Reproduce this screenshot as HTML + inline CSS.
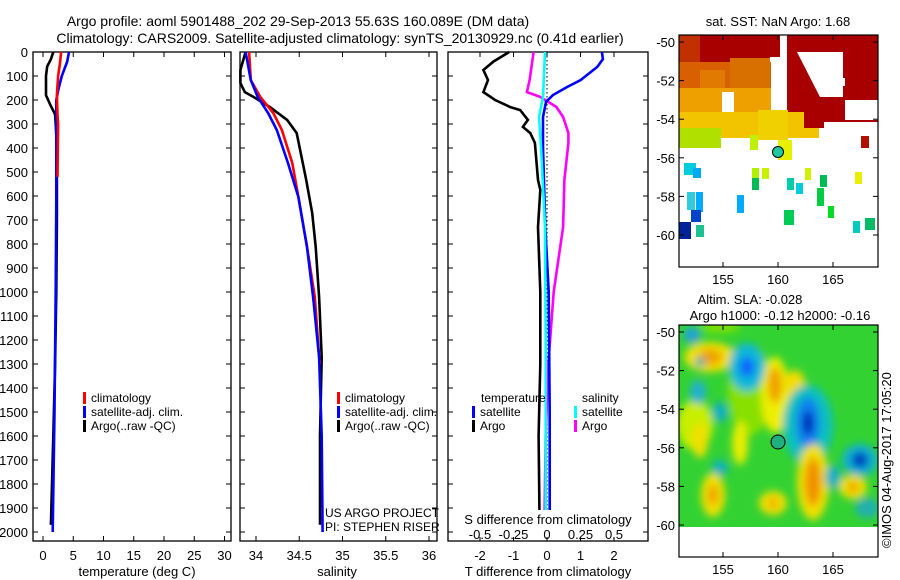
<!DOCTYPE html>
<html><head><meta charset="utf-8"><style>
body{margin:0;background:#fff;}
svg{display:block;font-family:"Liberation Sans",sans-serif;}
</style></head><body>
<svg id="fig" width="900" height="580" viewBox="0 0 900 580">
<defs>
<clipPath id="c1"><rect x="679" y="35" width="199" height="232"/></clipPath>
<clipPath id="c2"><rect x="679" y="325" width="199" height="202"/></clipPath>
<filter id="bl" x="-20%" y="-20%" width="140%" height="140%"><feGaussianBlur stdDeviation="4"/></filter>
</defs>
<text x="298" y="26" font-size="14" text-anchor="middle">Argo profile: aoml 5901488_202 29-Sep-2013 55.63S 160.089E (DM data)</text>
<text x="340" y="43" font-size="14" text-anchor="middle">Climatology: CARS2009. Satellite-adjusted climatology: synTS_20130929.nc (0.41d earlier)</text>
<g id="p1"></g>
<g id="p2"></g>
<g id="p3"></g>
<g id="m1"></g>
<g id="m2"></g>
<text transform="translate(891,548) rotate(-90)" font-size="13">©IMOS 04-Aug-2017 17:05:20</text>
</svg>
<script>
const NS="http://www.w3.org/2000/svg";
// ---- data ----
const depthTicks=[0,100,200,300,400,500,600,700,800,900,1000,1100,1200,1300,1400,1500,1600,1700,1800,1900,2000];
const tempTicks=[0,5,10,15,20,25,30];
const salTicks=[34,34.5,35,35.5,36];
const tdiffTicks=[-2,-1,0,1,2];
const sdiffTicks=[-0.5,-0.25,0,0.25,0.5];
const sdiffLabels=["-0.5","-0.25","0","0.25","0.5"];
const argoTDepth=[0,30,60,100,180,220,260,300,350,400,700,1000,1300,1600,1970];
const argoT=[1.7,1.3,0.7,0.5,0.5,1.2,2.0,2.1,2.2,2.3,2.3,2.2,2.0,1.7,1.3];
const climTDepth=[0,50,100,180,260,300,520];
const climT=[3.0,2.8,2.5,2.3,2.4,2.5,2.4];
const satTDepth=[0,40,100,150,200,300,600,1000,1500,2000];
const satT=[4.3,4.0,3.1,2.6,2.2,2.2,2.2,2.1,1.9,1.6];
const argoSDepth=[0,75,129,167,187,229,283,338,408,533,671,812,1021,1271,1600,1970];
const argoS=[33.88,33.82,33.82,33.87,33.97,34.16,34.36,34.47,34.51,34.58,34.65,34.69,34.73,34.76,34.74,34.74];
const climSDepth=[0,117,187,254,325,463,604,812,1021,1271,1300];
const climS=[33.92,33.94,34.05,34.20,34.30,34.42,34.49,34.59,34.68,34.73,34.74];
const satSDepth=[0,117,187,254,325,463,604,812,1021,1271,1600,2000];
const satS=[33.88,33.94,34.02,34.14,34.24,34.37,34.49,34.59,34.66,34.73,34.76,34.77];
const argoTdDepth=[0,40,75,117,167,200,229,242,283,312,338,379,533,575,729,1000,1300,1600,1970];
const argoTd=[-1.13,-1.6,-1.9,-1.76,-1.9,-1.55,-1.1,-0.8,-0.57,-0.72,-0.5,-0.36,-0.27,-0.2,-0.27,-0.2,-0.2,-0.25,-0.22];
const satTdDepth=[0,30,62,117,146,179,208,271,396,729,1000,1500,2000];
const satTd=[1.64,1.67,1.5,1.0,0.6,0.18,-0.03,-0.12,-0.12,-0.05,0.05,0.08,0.08];
const argoSdDepth=[0,117,167,187,229,271,338,379,533,729,1000,1300,1600,2000];
const argoSd=[-0.10,-0.13,-0.15,-0.05,0.07,0.12,0.16,0.16,0.13,0.12,0.05,0.01,-0.01,-0.02];
const satSdDepth=[0,187,271,396,729,1200,2000];
const satSd=[-0.015,-0.03,-0.06,-0.045,-0.015,-0.01,-0.01];
const latTicks=[-50,-52,-54,-56,-58,-60];
const lonTicks=[155,160,165];

function el(tag,attrs,parent,txt){const e=document.createElementNS(NS,tag);for(const k in attrs)e.setAttribute(k,attrs[k]);if(txt!==undefined)e.textContent=txt;parent.appendChild(e);return e;}
const Y=d=>52+d*0.24;
const xT=t=>43+t*6.05;
const xS=s=>256+(s-34)*86.5;
const xTd=t=>547+t*33.5;
const xSd=s=>547+s*134;

function frame(g,x0,x1,labels){
  const r=el('rect',{x:x0,y:52,width:x1-x0,height:489,fill:'none',stroke:'#000','stroke-width':1.3},g);
  
  
  depthTicks.forEach(d=>{
    el('line',{x1:x0,x2:x0+5,y1:Y(d),y2:Y(d),stroke:'#000'},g);
    el('line',{x1:x1-5,x2:x1,y1:Y(d),y2:Y(d),stroke:'#000'},g);
    if(labels){const t=el('text',{x:x0-5,y:Y(d)+5,'font-size':13,'text-anchor':'end'},g,String(d));
      
      }
  });
}
function line(g,xs,ds,fx,col,name,w){
  const pts=xs.map((v,i)=>fx(v).toFixed(1)+','+Y(ds[i]).toFixed(1)).join(' ');
  const p=el('polyline',{points:pts,fill:'none',stroke:col,'stroke-width':w||2.6},g);
  
  
}
function legend(g,x,y,col,txt,name){
  el('rect',{x:x,y:y-10,width:3,height:12,fill:col},g);
  const t=el('text',{x:x+8,y:y,'font-size':12},g,txt);
  
  
}
// panel 1
const p1=document.getElementById('p1');
frame(p1,33,231,true);
tempTicks.forEach(v=>{el('line',{x1:xT(v),x2:xT(v),y1:541,y2:536,stroke:'#000'},p1);el('line',{x1:xT(v),x2:xT(v),y1:52,y2:57,stroke:'#000'},p1);
  const t=el('text',{x:xT(v),y:560,'font-size':13,'text-anchor':'middle'},p1,String(v));
  
  });
el('text',{x:137,y:576,'font-size':13,'text-anchor':'middle'},p1,'temperature (deg C)');
line(p1,argoT,argoTDepth,xT,'#000','argo-temp-line');
line(p1,satT,satTDepth,xT,'#0000ff','sat-clim-temp-line');
line(p1,climT,climTDepth,xT,'#ff0000','clim-temp-line');
legend(p1,83,402,'#f00','climatology','legend-climatology');
legend(p1,83,416,'#00f','satellite-adj. clim.','legend-satellite');
legend(p1,83,430,'#000','Argo(..raw -QC)','legend-argo');
// panel 2
const p2=document.getElementById('p2');
frame(p2,240,437,false);
salTicks.forEach(v=>{el('line',{x1:xS(v),x2:xS(v),y1:541,y2:536,stroke:'#000'},p2);el('line',{x1:xS(v),x2:xS(v),y1:52,y2:57,stroke:'#000'},p2);
  const t=el('text',{x:xS(v),y:560,'font-size':13,'text-anchor':'middle'},p2,String(v));
  
  });
el('text',{x:337,y:576,'font-size':13,'text-anchor':'middle'},p2,'salinity');
line(p2,argoS,argoSDepth,xS,'#000','argo-salinity-line');
line(p2,climS,climSDepth,xS,'#ff0000','clim-salinity-line');
line(p2,satS,satSDepth,xS,'#0000ff','sat-clim-salinity-line');
legend(p2,337,402,'#f00','climatology','legend-climatology');
legend(p2,337,416,'#00f','satellite-adj. clim.','legend-satellite');
legend(p2,337,430,'#000','Argo(..raw -QC)','legend-argo');
el('text',{x:325,y:517,'font-size':12},p2,'US ARGO PROJECT');
el('text',{x:325,y:531,'font-size':12},p2,'PI: STEPHEN RISER');
// panel 3
const p3=document.getElementById('p3');
frame(p3,448,648,false);
tdiffTicks.forEach(v=>{el('line',{x1:xTd(v),x2:xTd(v),y1:541,y2:536,stroke:'#000'},p3);el('line',{x1:xTd(v),x2:xTd(v),y1:52,y2:57,stroke:'#000'},p3);
  const t=el('text',{x:xTd(v),y:560,'font-size':13,'text-anchor':'middle'},p3,String(v));
  
  });
el('line',{x1:547,x2:547,y1:52,y2:541,stroke:'#000','stroke-dasharray':'1.5,2.5'},p3);
line(p3,argoTd,argoTdDepth,xTd,'#000','argo-tdiff-line');
line(p3,argoSd,argoSdDepth,xSd,'#ff00ff','argo-sdiff-line');
line(p3,satTd,satTdDepth,xTd,'#0000ff','sat-tdiff-line');
line(p3,satSd,satSdDepth,xSd,'#00ffff','sat-sdiff-line');
el('rect',{x:462,y:510,width:176,height:30,fill:'#fff'},p3);
el('text',{x:548,y:524,'font-size':13,'text-anchor':'middle'},p3,'S difference from climatology');
sdiffTicks.forEach((v,i)=>{el('line',{x1:xSd(v),x2:xSd(v),y1:541,y2:537,stroke:'#000'},p3);
  const t=el('text',{x:xSd(v),y:539,'font-size':13,'text-anchor':'middle'},p3,sdiffLabels[i]);
  
  });
el('text',{x:548,y:576,'font-size':13,'text-anchor':'middle'},p3,'T difference from climatology');
el('text',{x:481,y:402,'font-size':12},p3,'temperature');
legend(p3,472,416,'#00f','satellite','legend-temp-satellite');
legend(p3,472,430,'#000','Argo','legend-temp-argo');
el('text',{x:582,y:402,'font-size':12},p3,'salinity');
legend(p3,574,416,'#0ff','satellite','legend-sal-satellite');
legend(p3,574,430,'#f0f','Argo','legend-sal-argo');

// maps
function mapAxes(g,top,bot,ylat50){
  el('rect',{x:679,y:top,width:199,height:bot-top,fill:'none',stroke:'#000','stroke-width':1.2},g);
  latTicks.forEach(v=>{const y=ylat50+(-50-v)*19.3;
    el('line',{x1:679,x2:684,y1:y,y2:y,stroke:'#000'},g);el('line',{x1:873,x2:878,y1:y,y2:y,stroke:'#000'},g);
    const t=el('text',{x:675,y:y+5,'font-size':13,'text-anchor':'end'},g,String(v));
    
    });
  lonTicks.forEach(v=>{const x=723+(v-155)*11;
    el('line',{x1:x,x2:x,y1:bot,y2:bot-5,stroke:'#000'},g);el('line',{x1:x,x2:x,y1:top,y2:top+5,stroke:'#000'},g);
    const t=el('text',{x:x,y:bot+17,'font-size':13,'text-anchor':'middle'},g,String(v));
    
    });
}
const m1=document.getElementById('m1');
el('text',{x:778,y:26,'font-size':13,'text-anchor':'middle'},m1,'sat. SST: NaN Argo: 1.68');
const c1=el('g',{'clip-path':'url(#c1)'},m1);
[[679,35,22,50,'#c03000'],[700,35,70,56,'#a80000'],[679,62,92,28,'#d86000'],[700,70,25,25,'#e07a00'],[730,58,40,35,'#d87000'],[679,88,92,30,'#eea000'],[770,35,10,22,'#a80000'],
 [787,35,91,87,'#a80000'],[679,112,140,26,'#f2c400'],[679,128,42,20,'#b0e000'],[758,110,30,30,'#f0d000'],[804,110,20,18,'#a80000']
].forEach(r=>el('rect',{x:r[0],y:r[1],width:r[2],height:r[3],fill:r[4]},c1));
el('polygon',{points:'797,52 843,52 843,97 820,97',fill:'#fff'},c1);
el('rect',{x:722,y:92,width:12,height:20,fill:'#fff'},c1);
el('rect',{x:845,y:100,width:33,height:20,fill:'#fff'},c1);
el('rect',{x:817,y:78,width:28,height:8,fill:'#fff'},c1);
[[684,163,12,12,'#00ccdd'],[693,168,8,10,'#00aaee'],[687,192,8,18,'#30ccdd'],[696,192,7,20,'#00aaff'],[691,210,10,12,'#0044cc'],[679,222,12,17,'#002299'],[696,225,8,12,'#20c090'],
 [737,195,7,18,'#00aaff'],[752,168,7,11,'#b0f000'],[762,168,7,11,'#c8f000'],[752,178,7,12,'#00bb55'],[787,178,7,12,'#00ccaa'],[805,168,6,12,'#d0f000'],[820,175,7,12,'#00bb55'],
 [796,183,7,11,'#00ccdd'],[817,188,7,18,'#00cc44'],[828,206,6,12,'#00dd22'],[784,210,10,15,'#00cc55'],[855,172,7,12,'#e8f000'],[853,221,7,12,'#00ccbb'],[865,218,10,12,'#00bb66'],[861,136,8,12,'#b01000'],[750,135,8,15,'#c0f000'],[778,140,14,20,'#e8f000']
].forEach(r=>el('rect',{x:r[0],y:r[1],width:r[2],height:r[3],fill:r[4]},c1));
el('circle',{cx:778,cy:152,r:5.5,fill:'#20c8a0',stroke:'#000','stroke-width':1},m1);
mapAxes(m1,35,267,42);

const m2=document.getElementById('m2');
el('text',{x:750,y:304,'font-size':13,'text-anchor':'middle'},m2,'Altim. SLA: -0.028');
el('text',{x:780,y:320,'font-size':13,'text-anchor':'middle'},m2,'Argo h1000: -0.12 h2000: -0.16');
const c2=el('g',{'clip-path':'url(#c2)'},m2);
el('rect',{x:679,y:325,width:199,height:202,fill:'#33d233'},c2);
const bg=el('g',{filter:'url(#bl)'},c2);
[[750,390,22,45,'#88e000'],[695,425,18,25,'#c8ee00'],[775,395,14,38,'#eeee00'],[775,385,7,18,'#f0a000'],[795,385,10,15,'#f2dd00'],
 [710,357,26,15,'#f0e000'],[710,357,12,8,'#f0a000'],[692,335,8,8,'#20a0e0'],
 [747,367,18,24,'#10b8d8'],[747,367,7,10,'#1060ff'],[698,392,8,12,'#20b0d0'],
 [808,425,25,40,'#10c0c0'],[808,423,12,26,'#1080f0'],[808,423,5,12,'#0020b0'],
 [720,412,8,10,'#10b0c0'],[740,443,8,22,'#e8ee00'],[700,440,8,18,'#f0e000'],
 [860,460,18,16,'#10b0d0'],[860,460,8,8,'#0040c0'],
 [813,482,16,38,'#f0e000'],[813,482,8,24,'#f09000'],[833,477,8,12,'#10b0c0'],
 [720,468,8,8,'#10b0c0'],[713,495,12,22,'#f0e000'],[713,495,5,10,'#f0a000'],
 [773,503,14,12,'#f0e000'],[773,503,5,6,'#f0b000'],[853,487,14,12,'#f0e000'],[853,487,5,6,'#f0a000'],[867,508,12,10,'#20b0b0'],[700,362,5,5,'#20b0b0'],[720,327,20,6,'#80e000']
].forEach(e=>el('ellipse',{cx:e[0],cy:e[1],rx:e[2],ry:e[3],fill:e[4]},bg));
el('circle',{cx:778,cy:442,r:7,fill:'#20b080',stroke:'#000','stroke-width':1},m2);
mapAxes(m2,325,557,332);
</script>
</body></html>
